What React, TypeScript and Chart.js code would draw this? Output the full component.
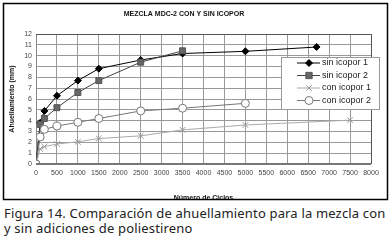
import React, { useEffect, useRef } from "react";
import { Chart, registerables } from "chart.js";

Chart.register(...registerables);

const titleText = "MEZCLA MDC-2 CON Y SIN ICOPOR";
const xTitle = "Número de Ciclos";
const yTitle = "Ahuellamiento (mm)";
const caption1 = "Figura 14. Comparación de ahuellamiento para la mezcla con";
const caption2 = "y sin adiciones de poliestireno";

const seriesNames = ["sin icopor 1", "sin icopor 2", "con icopor 1", "con icopor 2"];

const ciclosSin1 = [0, 100, 200, 500, 1000, 1500, 2500, 3500, 5000, 6700];
const valSin1 = [0, 3.8, 4.9, 6.3, 7.7, 8.8, 9.6, 10.2, 10.4, 10.8];

const ciclosSin2 = [0, 100, 200, 500, 1000, 1500, 2500, 3500];
const valSin2 = [0, 3.65, 4.2, 5.2, 6.6, 7.7, 9.4, 10.45];

const ciclosCon1 = [0, 100, 200, 500, 1000, 1500, 2500, 3500, 5000, 7500];
const valCon1 = [0, 1.4, 1.6, 1.85, 2.05, 2.35, 2.6, 3.15, 3.6, 4.05];

const ciclosCon2 = [0, 100, 200, 500, 1000, 1500, 2500, 3500, 5000];
const valCon2 = [0, 2.5, 3.2, 3.5, 3.85, 4.2, 4.9, 5.15, 5.6];

const pts = (xs: number[], ys: number[]) => xs.map((x, i) => ({ x, y: ys[i] }));

const FONT = "'Liberation Sans', Arial, sans-serif";

type Sty = { line: string; fill: string; border: string; style: string; r: number };
const styles: Sty[] = [
  { line: "#000000", fill: "#000000", border: "#000000", style: "rectRot", r: 3.5 },
  { line: "#444444", fill: "#666666", border: "#555555", style: "rect", r: 4.2 },
  { line: "#aaaaaa", fill: "#999999", border: "#999999", style: "crossRot", r: 4 },
  { line: "#777777", fill: "#ffffff", border: "#777777", style: "circle", r: 4 },
];

function drawMarker(ctx: CanvasRenderingContext2D, s: Sty, x: number, y: number) {
  ctx.save();
  ctx.fillStyle = s.fill;
  ctx.strokeStyle = s.border;
  ctx.lineWidth = 1;
  const r = s.r;
  ctx.beginPath();
  if (s.style === "rectRot") {
    ctx.moveTo(x, y - r);
    ctx.lineTo(x + r, y);
    ctx.lineTo(x, y + r);
    ctx.lineTo(x - r, y);
    ctx.closePath();
    ctx.fill();
    ctx.stroke();
  } else if (s.style === "rect") {
    const h = r * 0.75;
    ctx.rect(x - h, y - h, 2 * h, 2 * h);
    ctx.fill();
    ctx.stroke();
  } else if (s.style === "crossRot") {
    const h = r * 0.7;
    ctx.moveTo(x - h, y - h);
    ctx.lineTo(x + h, y + h);
    ctx.moveTo(x + h, y - h);
    ctx.lineTo(x - h, y + h);
    ctx.stroke();
  } else {
    ctx.arc(x, y, r, 0, Math.PI * 2);
    ctx.fill();
    ctx.stroke();
  }
  ctx.restore();
}

const framePlugin = {
  id: "frameLegend",
  beforeDraw(chart: any) {
    const { ctx, width, height } = chart;
    ctx.save();
    ctx.fillStyle = "#ffffff";
    ctx.fillRect(0, 0, width, height);
    ctx.restore();
  },
  afterDraw(chart: any) {
    const ctx: CanvasRenderingContext2D = chart.ctx;
    const ca = chart.chartArea;
    ctx.save();
    // title
    ctx.fillStyle = "#111111";
    ctx.font = `bold 7px ${FONT}`;
    ctx.textAlign = "center";
    ctx.textBaseline = "middle";
    ctx.fillText(titleText, 184, 14.5);
    // plot border
    ctx.strokeStyle = "#555555";
    ctx.lineWidth = 1;
    ctx.beginPath();
    ctx.moveTo(ca.left, ca.top + 0.5);
    ctx.lineTo(ca.right + 0.5, ca.top + 0.5);
    ctx.lineTo(ca.right + 0.5, ca.bottom);
    ctx.stroke();
    ctx.strokeStyle = "#777777";
    ctx.lineWidth = 2;
    ctx.beginPath();
    ctx.moveTo(ca.left, ca.bottom);
    ctx.lineTo(ca.right, ca.bottom);
    ctx.stroke();
    // legend box
    const lx = 281, ly = 57, lw = 98, lh = 52;
    ctx.fillStyle = "#ffffff";
    ctx.fillRect(lx, ly, lw, lh);
    ctx.strokeStyle = "#999999";
    ctx.lineWidth = 1;
    ctx.strokeRect(lx + 0.5, ly + 0.5, lw, lh);
    ctx.font = `9px ${FONT}`;
    ctx.textBaseline = "middle";
    ctx.textAlign = "left";
    seriesNames.forEach((name, i) => {
      const y = 63 + i * 12.5;
      const s = styles[i];
      ctx.strokeStyle = s.line;
      ctx.lineWidth = 1;
      ctx.beginPath();
      ctx.moveTo(297, y);
      ctx.lineTo(320, y);
      ctx.stroke();
      drawMarker(ctx, s, 309, y);
      ctx.fillStyle = "#222222";
      ctx.fillText(name, 322, y);
    });
    // outer frame
    ctx.strokeStyle = "#000000";
    ctx.lineWidth = 1.5;
    ctx.strokeRect(3.5, 3.5, 384, 196);
    ctx.restore();
  },
};

export default function App() {
  const ref = useRef<HTMLCanvasElement>(null);
  useEffect(() => {
    const ds = [
      pts(ciclosSin1, valSin1),
      pts(ciclosSin2, valSin2),
      pts(ciclosCon1, valCon1),
      pts(ciclosCon2, valCon2),
    ];
    const order = [3, 2, 1, 0];
    const chart = new Chart(ref.current!, {
      type: "line",
      data: {
        datasets: ds.map((d, i) => ({
          label: seriesNames[i],
          data: d,
          borderColor: styles[i].line,
          borderWidth: 1,
          backgroundColor: styles[i].fill,
          pointBackgroundColor: styles[i].fill,
          pointBorderColor: styles[i].border,
          pointBorderWidth: 1,
          pointStyle: styles[i].style as any,
          pointRadius: styles[i].r,
          tension: 0,
          fill: false,
          order: order[i],
        })),
      },
      options: {
        animation: false,
        responsive: false,
        maintainAspectRatio: false,
        layout: { padding: { top: 34, right: 19, left: 0, bottom: 0 } },
        plugins: {
          legend: { display: false },
          tooltip: { enabled: false },
          title: { display: false },
        },
        scales: {
          x: {
            type: "linear",
            min: 0,
            max: 8000,
            ticks: {
              stepSize: 500,
              color: "#444444",
              font: { size: 7, family: FONT },
              padding: 5,
              maxRotation: 0,
              autoSkip: false,
              callback: (v: any) => String(v),
            },
            grid: { color: "#999999", lineWidth: 1, drawTicks: false },
            border: { display: false },
            title: {
              display: true,
              text: xTitle,
              color: "#111111",
              font: { size: 7, weight: "bold", family: FONT },
              padding: { top: 10, bottom: 0 },
            },
            afterFit: (s: any) => {
              s.height = 38;
            },
          },
          y: {
            type: "linear",
            min: 0,
            max: 12,
            ticks: {
              stepSize: 1,
              color: "#444444",
              font: { size: 7, family: FONT },
              padding: 4,
              autoSkip: false,
              callback: (v: any) => String(v),
            },
            grid: { color: "#999999", lineWidth: 1, drawTicks: false },
            border: { display: true, color: "#888888", width: 1 },
            title: {
              display: true,
              text: yTitle,
              color: "#111111",
              font: { size: 7, weight: "bold", family: FONT },
              padding: { top: 8, bottom: 0 },
            },
            afterFit: (s: any) => {
              s.width = 36;
            },
          },
        },
      },
      plugins: [framePlugin],
    });
    return () => chart.destroy();
  }, []);

  return (
    <div style={{ position: "absolute", left: 0, top: 0, width: 390, height: 245, background: "#fff", overflow: "hidden" }}>
      <canvas ref={ref} width={390} height={202} style={{ display: "block", width: 390, height: 202 }} />
      <div
        style={{
          position: "absolute",
          left: 4,
          top: 206,
          fontFamily: "'Noto Sans', sans-serif",
          fontSize: 13,
          lineHeight: "15px",
          letterSpacing: "0.17px",
          color: "#222",
          whiteSpace: "nowrap",
        }}
      >
        <div>{caption1}</div>
        <div>{caption2}</div>
      </div>
    </div>
  );
}
